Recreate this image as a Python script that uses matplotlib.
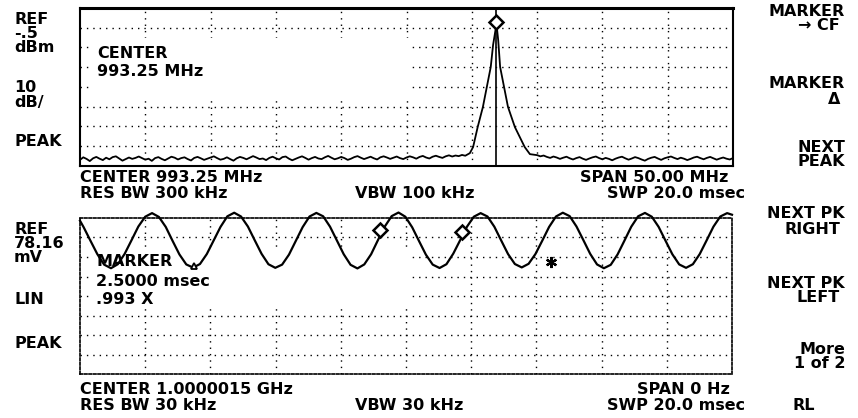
import numpy as np
import matplotlib
matplotlib.use("Agg")
import matplotlib.pyplot as plt
from matplotlib.patches import Rectangle

# ---------------- data ----------------
# upper trace : spectrum
ref_level_dbm = -0.5
db_per_div = 10
center_mhz = 993.25
span_mhz = 50.0

noise_left_start_mhz = 968.25
noise_right_start_mhz = 1003.25
noise_step_mhz = 0.25
noise_left_dbm = [-77.4, -76.1, -76.9, -78.0, -76.6, -75.9, -76.8, -77.5, -76.3, -77.1,
                  -76.0, -75.6, -76.7, -77.8, -77.0, -76.2, -76.9, -76.4, -75.7, -76.5,
                  -77.3, -76.8, -77.9, -76.5, -76.0, -76.9, -77.6, -76.7, -75.8, -76.3,
                  -77.2, -76.5, -76.1, -77.0, -77.7, -76.4, -75.9, -76.6, -77.4, -76.8,
                  -76.2, -75.6, -76.5, -77.3, -76.9, -76.1, -77.0, -77.8, -76.6, -75.9,
                  -76.4, -77.1, -76.3, -75.5, -76.2, -77.0, -76.7, -77.5, -76.4, -75.8,
                  -76.6, -77.2, -76.0, -75.7, -76.8, -77.6, -76.9, -76.2, -75.6, -76.4,
                  -77.3, -76.5, -75.9, -76.7, -77.0, -76.1, -75.4, -76.3, -77.1, -76.6,
                  -75.9, -76.5, -77.4, -76.8, -76.0, -75.5, -76.3, -77.0, -76.4, -75.8,
                  -76.6, -77.2, -76.1, -75.6, -76.2, -76.9, -76.3, -75.7, -76.5, -77.0,
                  -76.2, -75.6, -76.1, -76.8, -75.9, -75.4, -76.2, -76.7, -75.8, -75.3,
                  -75.9, -76.4, -75.6, -75.1, -75.7, -75.2, -75.5, -74.9, -75.3]
peak_freq_mhz = [998.10, 998.35, 998.70, 999.10, 999.40, 999.70, 999.88, 1000.14,
                 1000.27, 1000.42, 1000.72, 1001.02, 1001.55, 1002.30, 1002.70]
peak_dbm = [-74.0, -70.9, -60.8, -50.6, -40.5, -30.4, -19.2, -8.6,
            -16.7, -30.4, -40.5, -50.6, -60.8, -70.9, -74.5]
noise_right_dbm = [-75.0, -75.6, -75.2, -75.9, -76.4, -75.7, -76.2, -76.9, -76.3, -75.8,
                   -76.6, -77.2, -76.5, -76.0, -76.8, -77.4, -76.7, -76.1, -75.7, -76.5,
                   -77.1, -76.4, -76.9, -77.6, -76.8, -76.2, -75.8, -76.6, -77.3, -76.7,
                   -76.0, -76.5, -77.2, -77.8, -76.9, -76.3, -75.9, -76.7, -77.4, -76.6,
                   -76.1, -75.7, -76.4, -77.0, -76.3, -76.8, -77.5, -76.9, -76.2, -75.8,
                   -76.5, -77.1, -76.4, -75.9, -76.6, -77.3, -76.7, -76.2, -76.8, -77.2, -76.5]
marker_freq_mhz = 1000.14
marker_dbm = -7.6

# lower trace : zero-span demodulated signal
ref_mv = 78.16
sweep_ms = 20.0
sine_first_ms = 0.11
sine_step_ms = 0.21
sine_start_mv = 76.8
sine_end_mv = 79.8
sine_mv = [73.6, 66.8, 60.1, 54.8, 53.0, 55.0, 60.2, 67.0, 73.9, 78.8, 80.6, 78.7,
           73.7, 66.7, 59.9, 54.9, 53.3, 55.1, 60.1, 66.9, 73.7, 79.0, 80.8, 78.9,
           73.9, 67.0, 60.2, 55.0, 53.2, 54.8, 59.8, 66.7, 73.6, 78.9, 80.7, 79.0,
           73.8, 66.9, 60.0, 54.7, 52.9, 54.9, 60.0, 67.1, 73.9, 79.1, 80.9, 78.8,
           73.5, 66.6, 59.8, 54.8, 53.1, 55.0, 60.3, 67.0, 73.8, 78.8, 80.6, 78.9,
           73.8, 66.9, 60.1, 55.1, 53.4, 55.2, 60.1, 66.8, 73.7, 78.9, 80.8, 79.1,
           73.9, 67.1, 60.2, 54.9, 53.0, 54.7, 59.9, 66.8, 73.8, 79.0, 80.7, 78.8,
           73.7, 66.8, 60.0, 54.9, 53.2, 55.0, 60.1, 66.9, 73.8, 78.9, 80.6]
diamond_ms = [9.20, 11.72]
diamond_mv = [72.1, 71.1]
delta_ref_ms = 3.50
delta_ref_mv = 54.0
star_ms = 14.45
star_mv = 56.1

# ---------------- figure ----------------
W, H = 858, 418
fig = plt.figure(figsize=(W / 100, H / 100), dpi=100)
fig.patch.set_facecolor("white")

FONT = dict(family="DejaVu Sans", weight="bold", size=11.5, color="black")


def px_axes(x0, y0, x1, y1):
    return fig.add_axes([x0 / W, 1 - y1 / H, (x1 - x0) / W, (y1 - y0) / H])


def label(s, x, y, ha="left"):
    fig.text(x / W, 1 - y / H, s, ha=ha, va="center", **FONT)


DOT = (0, (1, 3.6))

# ---- upper panel ----
ax1 = px_axes(80, 8, 733, 166)
fmin, fmax = center_mhz - span_mhz / 2, center_mhz + span_mhz / 2
ylo = ref_level_dbm - 8 * db_per_div
ax1.set_xlim(fmin, fmax)
ax1.set_ylim(ylo, ref_level_dbm)
ax1.set_xticks([]); ax1.set_yticks([])
for i in range(1, 10):
    ax1.axvline(fmin + i * span_mhz / 10, color="black", lw=1.0, ls=DOT, zorder=1)
for j in range(1, 8):
    ax1.axhline(ylo + j * db_per_div, color="black", lw=1.0, ls=DOT, zorder=1)
ax1.add_patch(Rectangle((0.016, 0.42), 0.49, 0.39, transform=ax1.transAxes,
                        fc="white", ec="none", zorder=1.5))
for name, sp in ax1.spines.items():
    sp.set_linewidth(2.2 if name == "top" else 1.5)

f_left = noise_left_start_mhz + noise_step_mhz * np.arange(len(noise_left_dbm))
f_right = noise_right_start_mhz + noise_step_mhz * np.arange(len(noise_right_dbm))
freqs = np.concatenate([f_left, peak_freq_mhz, f_right])
levels = np.concatenate([noise_left_dbm, peak_dbm, noise_right_dbm])
ax1.plot(freqs, levels, color="black", lw=1.3, zorder=3)
ax1.axvline(marker_freq_mhz, color="black", lw=1.2, zorder=2.5)
ax1.plot([marker_freq_mhz], [marker_dbm], "D", ms=7, mfc="white", mec="black",
         mew=1.8, zorder=4, clip_on=False)

# ---- lower panel ----
ax2 = px_axes(80, 218, 732, 374)
ax2.set_xlim(0, sweep_ms)
ax2.set_ylim(0, ref_mv)
ax2.set_xticks([]); ax2.set_yticks([])
for i in range(1, 10):
    ax2.axvline(i * sweep_ms / 10, color="black", lw=1.0, ls=DOT, zorder=1)
for j in range(1, 8):
    ax2.axhline(j * ref_mv / 8, color="black", lw=1.0, ls=DOT, zorder=1)
ax2.add_patch(Rectangle((0.016, 0.44), 0.49, 0.37, transform=ax2.transAxes,
                        fc="white", ec="none", zorder=1.5))
for name, sp in ax2.spines.items():
    sp.set_linewidth(1.2)
    sp.set_linestyle((0, (1.5, 1.2)))

t = sine_first_ms + sine_step_ms * np.arange(len(sine_mv))
tt = np.concatenate([[0.0], t, [sweep_ms]])
vv = np.concatenate([[sine_start_mv], sine_mv, [sine_end_mv]])
ax2.plot(tt, vv, color="black", lw=1.6, zorder=3, clip_on=False)
ax2.plot(diamond_ms, diamond_mv, "D", ms=7, mfc="white", mec="black", mew=1.8,
         zorder=4, clip_on=False)
ax2.plot([delta_ref_ms], [delta_ref_mv], "^", ms=5, mfc="white", mec="black",
         mew=1.3, zorder=4)
ax2.plot([star_ms], [star_mv], marker=(6, 2, 0), ms=8, color="black", mew=1.6,
         zorder=4)

# ---- text ----
for s, y in [("REF", 19), ("-.5", 33), ("dBm", 47), ("10", 88), ("dB/", 102), ("PEAK", 141),
             ("REF", 229), ("78.16", 243), ("mV", 257), ("LIN", 299), ("PEAK", 344)]:
    label(s, 14, y)

label("CENTER", 97, 53)
label("993.25 MHz", 97, 72)
label("MARKER", 96, 262)
label("2.5000 msec", 96, 281)
label(".993 X", 96, 300)

label("CENTER 993.25 MHz", 80, 177)
label("RES BW 300 kHz", 80, 193)
label("VBW 100 kHz", 355, 193)
label("SPAN 50.00 MHz", 728, 177, ha="right")
label("SWP 20.0 msec", 745, 193, ha="right")

label("CENTER 1.0000015 GHz", 80, 389)
label("RES BW 30 kHz", 80, 406)
label("VBW 30 kHz", 355, 406)
label("SPAN 0 Hz", 730, 389, ha="right")
label("SWP 20.0 msec", 745, 406, ha="right")

for s, x, y in [("MARKER", 845, 12), ("→ CF", 840, 26), ("MARKER", 845, 84), ("Δ", 840, 99),
                ("NEXT", 845, 147), ("PEAK", 845, 161), ("NEXT PK", 845, 214),
                ("RIGHT", 840, 229), ("NEXT PK", 845, 284), ("LEFT", 840, 298),
                ("More", 845, 350), ("1 of 2", 845, 364)]:
    label(s, x, y, ha="right")
label("RL", 793, 405)

fig.savefig("out.png", dpi=100, facecolor="white")
